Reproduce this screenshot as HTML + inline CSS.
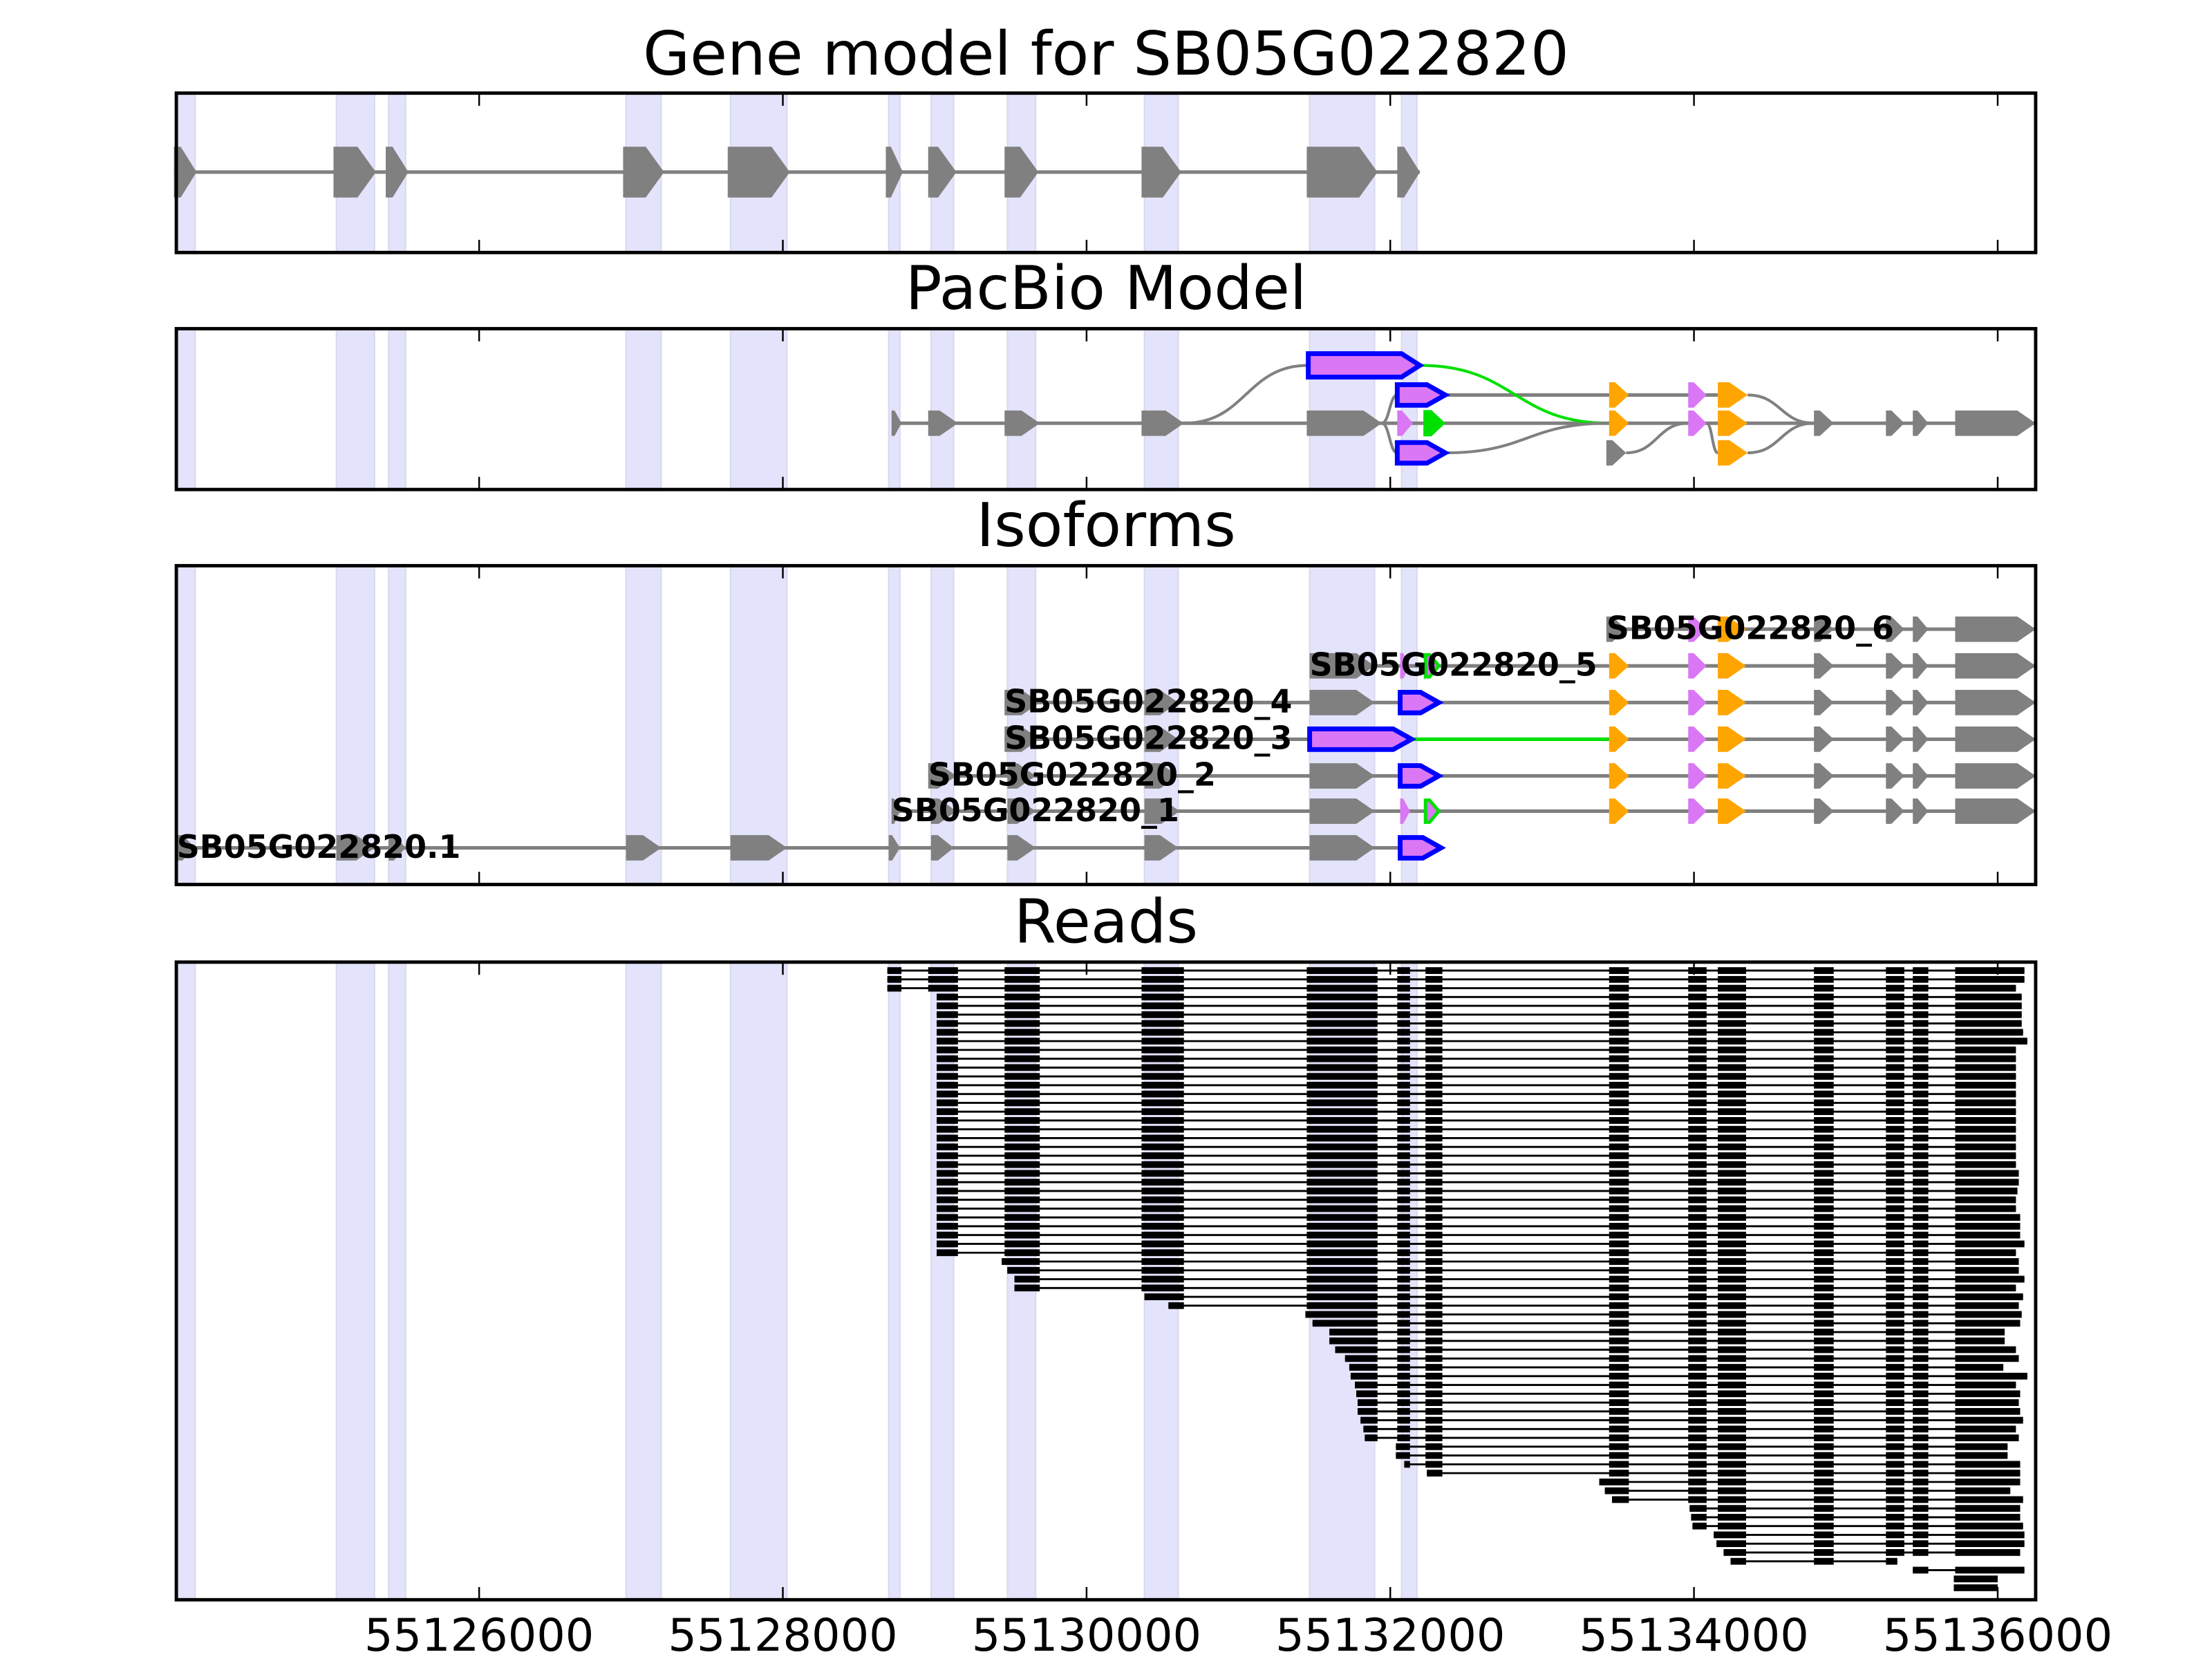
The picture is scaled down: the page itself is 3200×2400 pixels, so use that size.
<!DOCTYPE html>
<html><head><meta charset="utf-8"><title>Gene model for SB05G022820</title>
<style>html,body{margin:0;padding:0;background:#fff;}svg{display:block;}</style></head>
<body>
<svg id="fig" xmlns="http://www.w3.org/2000/svg" width="3200" height="2400" viewBox="0 0 1568 1176" font-family="'DejaVu Sans','Liberation Sans',sans-serif">
<rect x="0" y="0" width="1568" height="1176" fill="#fff"/>
<g id="layer"></g>
</svg>
<script>
// ---------- data ----------
const domainStart = 55124006, domainEnd = 55136250;
const tickValues = [55126000, 55128000, 55130000, 55132000, 55134000, 55136000];
const tickLabels = ["55126000", "55128000", "55130000", "55132000", "55134000", "55136000"];
const panelTitles = ["Gene model for SB05G022820", "PacBio Model", "Isoforms", "Reads"];

const geneExonStarts = [55123990,55125041,55125385,55126948,55127637,55128678,55128957,55129460,55130362,55131450,55132046];
const geneExonEnds   = [55124139,55125320,55125534,55127218,55128046,55128790,55129143,55129683,55130623,55131916,55132195];

const shadeStarts = [55124009,55125060,55125404,55126967,55127655,55128697,55128976,55129479,55130381,55131469,55132074];
const shadeEnds   = [55124130,55125311,55125516,55127199,55128027,55128771,55129125,55129665,55130604,55131897,55132176];

// read exon model (bp)
const readExonStarts = [55128716,55128957,55129460,55130362,55131450,55132046,55132232,55133441,55133962,55134157,55134790,55135264,55135441,55135720];
const readExonEnds   = [55128781,55129153,55129692,55130641,55131916,55132130,55132343,55133571,55134083,55134343,55134920,55135385,55135543,55136250];

const readStarts = [55128688,55128688,55128688,
 55129013,55129013,55129013,55129013,55129013,55129013,55129013,55129013,55129013,55129013,
 55129013,55129013,55129013,55129013,55129013,55129013,55129013,55129013,55129013,55129013,
 55129013,55129013,55129013,55129013,55129013,55129013,55129013,55129013,55129013,55129013,
 55129441,55129478,55129525,55129525,55130381,55130539,
 55131441,55131488,55131599,55131599,55131637,55131702,55131730,55131739,55131767,55131776,
 55131785,55131785,55131804,55131823,55131832,
 55132037,55132037,55132092,55132241,
 55133376,55133413,55133460,55133971,55133981,55133990,
 55134130,55134148,55134195,55134241,55135441,55135711,55135711];
const readEnds = [55136176,55136176,55136120,55136158,55136158,55136158,55136158,55136167,55136195,
 55136120,55136120,55136120,55136120,55136120,55136120,55136120,55136120,55136120,55136120,
 55136120,55136120,55136120,55136120,55136139,55136139,55136130,55136120,55136120,55136148,
 55136148,55136148,55136176,55136120,55136139,55136139,55136176,55136120,55136167,55136139,
 55136158,55136148,55136046,55136046,55136120,55136139,55136037,55136195,55136120,55136148,
 55136139,55136148,55136167,55136120,55136139,55136065,55136065,55136148,55136148,55136148,
 55136083,55136167,55136148,55136148,55136167,55136176,55136176,55136148,55135339,55136176,
 55136000,55136000];

// PacBio model exons
const pacbioStarts = [55128716,55128957,55129460,55130362,55131450,55132046,55132232,55133441,55133962,55134157,55134790,55135264,55135441,55135720,
 55131460, 55132046,55133441,55133962,55134157, 55132046,55133423,55134157];
const pacbioEnds   = [55128781,55129153,55129692,55130641,55131944,55132149,55132343,55133571,55134083,55134353,55134920,55135385,55135543,55136250,
 55132195, 55132362,55133571,55134083,55134353, 55132362,55133553,55134353];
const pacbioRows   = [2,2,2,2,2,2,2,2,2,2,2,2,2,2, 0, 1,1,1,1, 3,3,3];
const pacbioKinds  = ["g","g","g","g","g","p","n","o","p","o","g","g","g","g", "b", "b","o","p","o", "b","g","o"];

// isoforms
const isoNames = ["SB05G022820_6","SB05G022820_5","SB05G022820_4","SB05G022820_3","SB05G022820_2","SB05G022820_1","SB05G022820.1"];
const isoTail = [[55133441,55133571,"o"],[55133962,55134083,"p"],[55134157,55134343,"o"],[55134790,55134920,"g"],[55135264,55135385,"g"],[55135441,55135543,"g"],[55135720,55136250,"g"]];
const iso6 = [[55133423,55133553,"g"],[55133962,55134083,"p"],[55134157,55134343,"o"],[55134790,55134920,"g"],[55135264,55135385,"g"],[55135441,55135543,"g"],[55135720,55136250,"g"]];
const iso5 = [[55131469,55131897,"g"],[55132065,55132130,"p"],[55132232,55132320,"n"]].concat(isoTail);
const iso4 = [[55129460,55129692,"g"],[55130381,55130604,"g"],[55131469,55131897,"g"],[55132065,55132320,"b"]].concat(isoTail);
const iso3 = [[55129460,55129692,"g"],[55130381,55130604,"g"],[55131469,55132140,"b"]].concat(isoTail);
const iso2 = [[55128957,55129143,"g"],[55129479,55129665,"g"],[55130381,55130604,"g"],[55131469,55131897,"g"],[55132065,55132320,"b"]].concat(isoTail);
const iso1 = [[55128716,55128771,"g"],[55128976,55129143,"g"],[55129479,55129665,"g"],[55130381,55130613,"g"],[55131469,55131897,"g"],[55132065,55132130,"p"],[55132232,55132320,"n"]].concat(isoTail);
const iso0 = [[55124009,55124130,"g"],[55125060,55125311,"g"],[55125404,55125516,"g"],[55126967,55127199,"g"],[55127655,55128027,"g"],[55128697,55128771,"g"],[55128976,55129125,"g"],[55129479,55129665,"g"],[55130381,55130604,"g"],[55131469,55131897,"g"],[55132065,55132335,"b"]];

// ---------- layout ----------
const L = 125, R = 1443;
const panels = [{t:66,b:179,ty:53},{t:233,b:347,ty:219},{t:401,b:627,ty:387},{t:682,b:1134,ty:668}];
const NS = "http://www.w3.org/2000/svg";
const layer = document.getElementById("layer");
function sx(bp){ return L + (bp - domainStart) / (domainEnd - domainStart) * (R - L); }
function mk(tag, attrs, parent){ const e = document.createElementNS(NS, tag); for (const k in attrs) e.setAttribute(k, attrs[k]); (parent||layer).appendChild(e); return e; }
const COL = {g:"#808080", p:"#da77f5", o:"#ffa500", b:"#da77f5", n:"#da77f5"};
function pent(x1, x2, yc, h, headMax){
  const w = x2 - x1; const hd = Math.min(headMax, w * 0.7);
  return [[x1,yc-h/2],[x2-hd,yc-h/2],[x2,yc],[x2-hd,yc+h/2],[x1,yc+h/2]].map(p=>p[0].toFixed(2)+","+p[1].toFixed(2)).join(" ");
}
function exon(s, e, yc, h, kind, parent){
  const x1 = sx(s), x2 = sx(e);
  let attrs = {points: pent(x1, x2, yc, h, 13)};
  if (kind === "b") { attrs.fill = COL.p; attrs.stroke = "#0000ff"; attrs["stroke-width"] = 3.4; attrs.points = pent(x1, x2, yc, h-3.4, 13); }
  else if (kind === "n") { attrs.fill = COL.p; attrs.stroke = "#00e000"; attrs["stroke-width"] = 2.4; attrs.points = pent(x1, x2, yc, h-2.4, 13); }
  else { attrs.fill = COL[kind]; }
  const el = mk("polygon", attrs, parent);
  
  
  return el;
}
function line(x1,y1,x2,y2,color,w,parent){
  const el = mk("line",{x1:x1,y1:y1,x2:x2,y2:y2,stroke:color,"stroke-width":w},parent);
  
  
  return el;
}
function curve(x1,y1,x2,y2,color,parent){
  const m = (x1+x2)/2;
  const el = mk("path",{d:`M${x1},${y1} C${m},${y1} ${m},${y2} ${x2},${y2}`,fill:"none",stroke:color,"stroke-width":2},parent);
  
  
  return el;
}

panels.forEach((p, i) => {
  const g = mk("g", {});
  
  
  p.g = g;
  const t = mk("text", {x:(L+R)/2, y:p.ty, "text-anchor":"middle", "font-size":43, fill:"#000"}, g);
  t.textContent = panelTitles[i];
  
  
  for (let k = 0; k < shadeStarts.length; k++) {
    const x1 = sx(shadeStarts[k]), x2 = sx(shadeEnds[k]);
    const r = mk("rect", {x:x1, y:p.t, width:x2-x1, height:p.b-p.t, fill:"#e3e3fb", stroke:"#d9d9ee", "stroke-width":1}, g);
    
    
  }
});

// panel 1
{
  const p = panels[0], yc = 122;
  line(sx(geneExonStarts[0]), yc, sx(geneExonEnds[geneExonEnds.length-1]), yc, "#808080", 2.5, p.g);
  for (let k = 0; k < geneExonStarts.length; k++) exon(geneExonStarts[k], geneExonEnds[k], yc, 36, "g", p.g);
}

// panel 2
{
  const p = panels[1], rows = [259, 280, 300, 321];
  const g = p.g;
  line(sx(55128716), 300, sx(55136250), 300, "#808080", 2.5, g);
  line(sx(55132362), 280, sx(55134157), 280, "#808080", 2.5, g);
  curve(sx(55130641), 300, sx(55131460), 259, "#808080", g);
  curve(sx(55132195), 259, sx(55133441), 300, "#00e000", g);
  curve(sx(55131944), 300, sx(55132046), 280, "#808080", g);
  curve(sx(55131944), 300, sx(55132046), 321, "#808080", g);
  curve(sx(55134353), 280, sx(55134790), 300, "#808080", g);
  curve(sx(55132362), 321, sx(55133441), 300, "#808080", g);
  curve(sx(55133553), 321, sx(55133962), 300, "#808080", g);
  curve(sx(55134083), 300, sx(55134157), 321, "#808080", g);
  curve(sx(55134353), 321, sx(55134790), 300, "#808080", g);
  for (let k = 0; k < pacbioStarts.length; k++) {
    const kind = pacbioKinds[k];
    let h = 18;
    if (kind === "b" && pacbioRows[k] === 0) h = 20;
    if (kind === "n") { const el = exon(pacbioStarts[k], pacbioEnds[k], rows[pacbioRows[k]], h, kind, g); el.setAttribute("fill", "#00e000"); el.setAttribute("stroke-width", 3); }
    else exon(pacbioStarts[k], pacbioEnds[k], rows[pacbioRows[k]], h, kind, g);
  }
}

// panel 3
{
  const p = panels[2], rows = [446, 472, 498, 524, 550, 575, 601];
  const isos = [iso6, iso5, iso4, iso3, iso2, iso1, iso0];
  isos.forEach((iso, i) => {
    const yc = rows[i];
    const x1 = sx(iso[0][0]), x2 = sx(iso[iso.length-1][1]);
    line(x1, yc, x2, yc, "#808080", 2.5, p.g);
    if (i === 3) line(sx(55132140), yc, sx(55133441), yc, "#00e000", 2.5, p.g);
    iso.forEach(ex => exon(ex[0], ex[1], yc, 18, ex[2], p.g));
  });
  isos.forEach((iso, i) => {
    const t = mk("text", {x:sx(iso[0][0]), y:rows[i]+7, "font-size":22.5, "font-weight":"bold", fill:"#000"}, p.g);
    t.textContent = isoNames[i];
    
    
  });
}

// panel 4
{
  const p = panels[3];
  for (let i = 0; i < readStarts.length; i++) {
    const yc = 688 + i * 6.25;
    const s = readStarts[i], e = readEnds[i];
    const rg = mk("g", {}, p.g);
    
    
    line(sx(s), yc, sx(e), yc, "#000", 1.4, rg);
    let first = true;
    for (let k = 0; k < readExonStarts.length; k++) {
      if (readExonEnds[k] <= s || readExonStarts[k] >= e) continue;
      const a = first ? s : Math.max(readExonStarts[k], s);
      const b = Math.min(readExonEnds[k], e);
      first = false;
      const r = mk("rect", {x:sx(a), y:yc-2.4, width:Math.max(1, sx(b)-sx(a)), height:4.8, fill:"#000"}, rg);
      
      
    }
  }
}

panels.forEach((p, i) => {
  const f = mk("rect", {x:L, y:p.t, width:R-L, height:p.b-p.t, fill:"none", stroke:"#000", "stroke-width":2.4});
  
  
  tickValues.forEach(v => {
    const x = sx(v);
    const t1 = mk("line", {x1:x, y1:p.t, x2:x, y2:p.t+9, stroke:"#000", "stroke-width":1.2});
    
    
    const t2 = mk("line", {x1:x, y1:p.b, x2:x, y2:p.b-9, stroke:"#000", "stroke-width":1.2});
    
    
  });
});
tickValues.forEach((v, i) => {
  const t = mk("text", {x:sx(v), y:1170, "text-anchor":"middle", "font-size":32, fill:"#000"});
  t.textContent = tickLabels[i];
  
  
});
</script>
</body></html>
